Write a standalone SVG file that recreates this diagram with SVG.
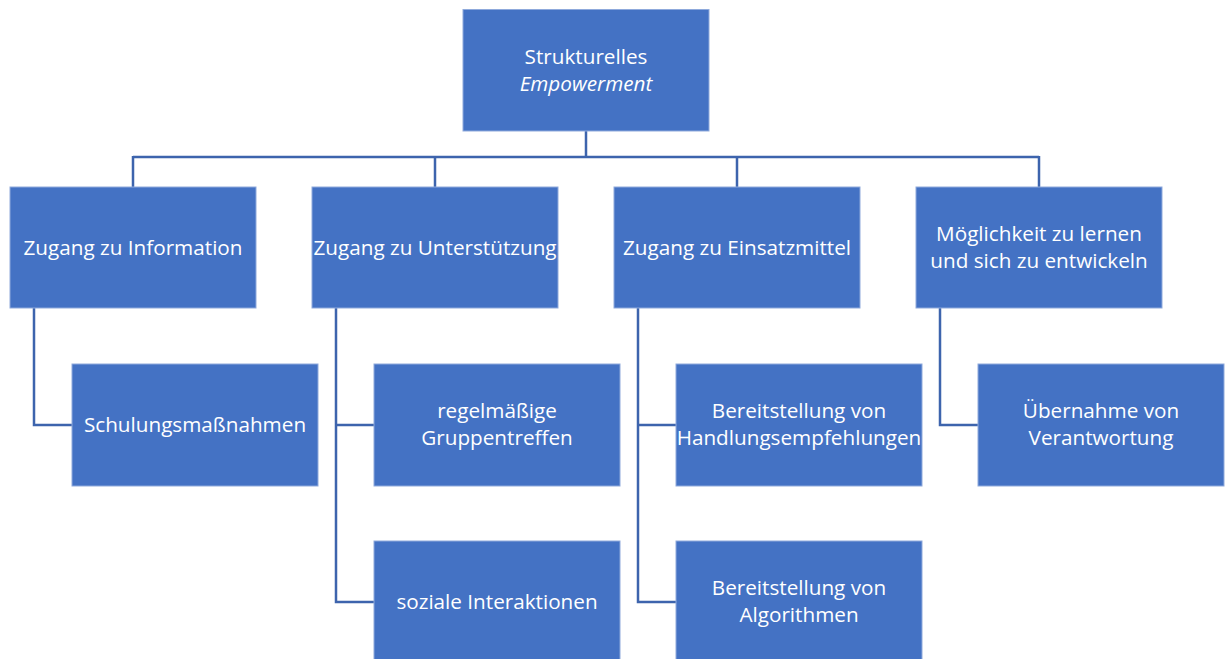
<svg xmlns="http://www.w3.org/2000/svg" width="1230" height="659" viewBox="0 0 1230 659">
<style>
.box{fill:#4472C4;stroke:#8FAADC;stroke-width:1}
.t{font-family:"Open Sans","Noto Sans",sans-serif;font-size:20.7px;fill:#fff;text-anchor:middle}
.c{fill:none;stroke:#3D64AD;stroke-width:2.5}
</style>
<rect width="1230" height="659" fill="#fff"/>
<g id="connectors">
<path class="c" d="M586 131V157M133 157H1039M133 156V187M435 156V187M737 156V187M1039 156V187"/>
<path class="c" d="M34 308V425H72"/>
<path class="c" d="M336 308V602H374M336 425H374"/>
<path class="c" d="M638 308V602H676M638 425H676"/>
<path class="c" d="M940 308V425H978"/>
</g>
<g id="n0"><rect class="box" x="463" y="9.5" width="246" height="121.5"/><text class="t" x="586" y="64">Strukturelles</text><text class="t" x="586" y="91" font-style="italic">Empowerment</text></g>
<g id="n1"><rect class="box" x="10" y="187" width="246" height="121"/><text class="t" x="133" y="254.5">Zugang zu Information</text></g>
<g id="n2"><rect class="box" x="312" y="187" width="246" height="121"/><text class="t" x="435" y="254.5">Zugang zu Unterstützung</text></g>
<g id="n3"><rect class="box" x="614" y="187" width="246" height="121"/><text class="t" x="737" y="254.5">Zugang zu Einsatzmittel</text></g>
<g id="n4"><rect class="box" x="916" y="187" width="246" height="121"/><text class="t" x="1039" y="241">Möglichkeit zu lernen</text><text class="t" x="1039" y="268">und sich zu entwickeln</text></g>
<g id="n5"><rect class="box" x="72" y="364" width="246" height="122"/><text class="t" x="195" y="431.5">Schulungsmaßnahmen</text></g>
<g id="n6"><rect class="box" x="374" y="364" width="246" height="122"/><text class="t" x="497" y="418">regelmäßige</text><text class="t" x="497" y="445">Gruppentreffen</text></g>
<g id="n7"><rect class="box" x="374" y="541" width="246" height="122"/><text class="t" x="497" y="608.5">soziale Interaktionen</text></g>
<g id="n8"><rect class="box" x="676" y="364" width="246" height="122"/><text class="t" x="799" y="418">Bereitstellung von</text><text class="t" x="799" y="445">Handlungsempfehlungen</text></g>
<g id="n9"><rect class="box" x="676" y="541" width="246" height="122"/><text class="t" x="799" y="595">Bereitstellung von</text><text class="t" x="799" y="622">Algorithmen</text></g>
<g id="n10"><rect class="box" x="978" y="364" width="246" height="122"/><text class="t" x="1101" y="418">Übernahme von</text><text class="t" x="1101" y="445">Verantwortung</text></g>
</svg>
